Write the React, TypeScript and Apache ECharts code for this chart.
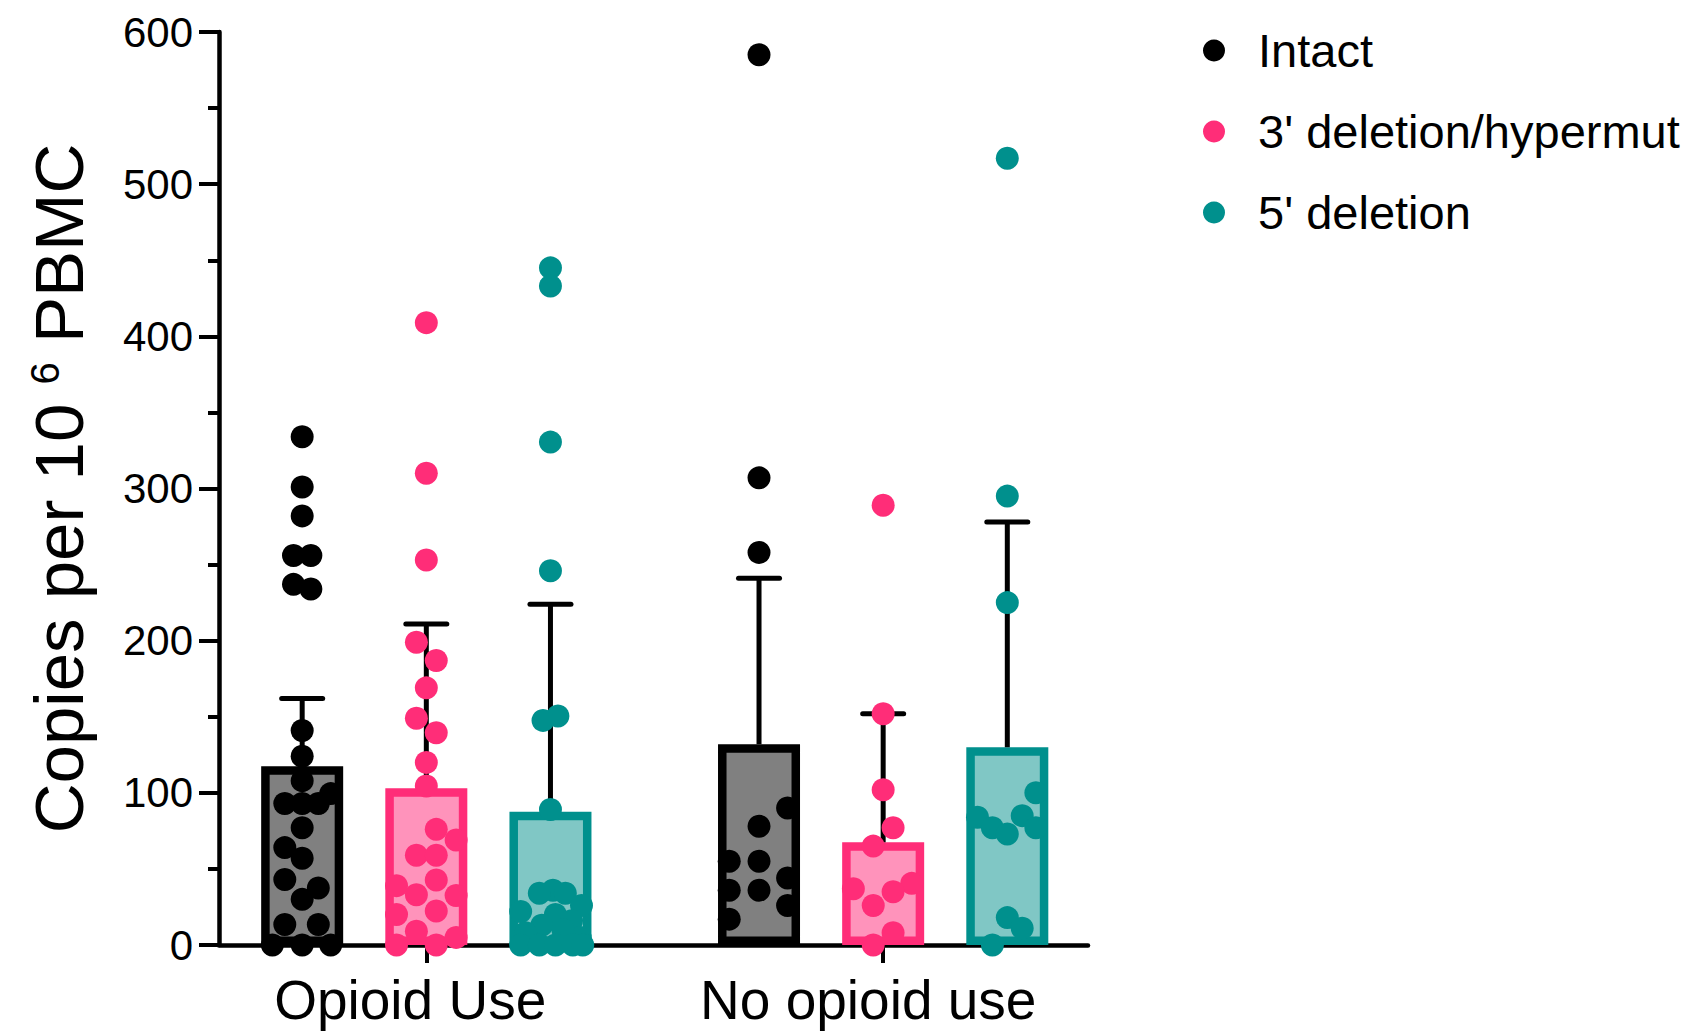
import React, { useEffect, useRef } from 'react';
import * as echarts from 'echarts';

// ---- data ----
const groupLabels = ['Opioid Use', 'No opioid use'];
const seriesNames = ['Intact', "3' deletion/hypermut", "5' deletion"];

// x position (value-axis units) of each bar: [group][series]
const barPositions = [
  [0.67, 1.67, 2.67],
  [4.35, 5.35, 6.35],
];
const groupTickPositions = [1.67, 5.35];
const groupLabelPositions = [1.54, 5.23];

// bar heights (mean) and upper error bar ends: [group][series]
const barMeans = [
  [117.5, 103, 87.5],
  [132, 67.5, 130],
];
const errorUpper = [
  [162, 211, 224],
  [241, 152, 278],
];

// individual points (values) and their horizontal jitter (axis units)
const opioidIntact = [334, 301, 282, 256, 256, 237, 234, 141, 124, 108, 93, 93, 93, 99.5, 77, 64, 57, 43, 37.5, 30, 13.5, 13.5, 0, 0, 0];
const opioidIntactJitter = [0, 0, 0, -0.07, 0.07, -0.07, 0.07, 0, 0, 0, -0.14, 0, 0.13, 0.23, 0, -0.14, 0, -0.14, 0.13, 0, -0.14, 0.13, -0.24, 0, 0.23];

const opioidDel3 = [409, 310, 253, 199, 187, 169, 149, 139.5, 120, 104.5, 76, 69, 59, 59, 39, 42.7, 33, 32.5, 22.3, 20, 9, 0, 0, 5];
const opioidDel3Jitter = [0, 0, 0, -0.08, 0.08, 0, -0.08, 0.08, 0, 0, 0.08, 0.24, -0.08, 0.08, -0.24, 0.08, -0.08, 0.24, 0.08, -0.24, -0.08, -0.24, 0.08, 0.24];

const opioidDel5 = [445, 433, 330.5, 246, 150.5, 147.6, 89, 36, 34, 34, 26, 22, 20, 16, 13, 8, 5, 10, 0, 0, 0, 0, 0];
const opioidDel5Jitter = [0, 0, 0, 0, 0.06, -0.06, 0, 0.02, -0.09, 0.12, 0.25, -0.24, 0.04, 0.17, -0.07, -0.2, 0.24, 0.1, -0.24, -0.09, 0.04, 0.18, 0.26];

const noOpioidIntact = [585, 307, 258, 90, 78, 55, 55, 44, 36, 36, 26, 17];
const noOpioidIntactJitter = [0, 0, 0, 0.23, 0, -0.24, 0, 0.23, -0.24, 0, 0.23, -0.24];

const noOpioidDel3 = [289, 152, 102, 77, 65, 37, 40.5, 35, 26, 8, 0];
const noOpioidDel3Jitter = [0, 0, 0, 0.08, -0.08, -0.24, 0.23, 0.08, -0.08, 0.08, -0.08];

const noOpioidDel5 = [517, 295, 225, 100, 84, 85, 77, 73, 77, 18, 11, 0];
const noOpioidDel5Jitter = [0, 0, 0, 0.23, -0.24, 0.12, -0.12, 0, 0.23, 0, 0.12, -0.12];

const yTicks = [0, 100, 200, 300, 400, 500, 600];

// ---- styles ----
const FONT = "'Liberation Sans', Arial, Helvetica, sans-serif";
const dotColors = ['#000000', '#FF2D78', '#00908D'];
const barFills = ['#808080', '#FF93BB', '#80C7C5'];
const barBorders = ['#000000', '#FF2D78', '#00908D'];

const pointSets = [
  [
    [opioidIntact, opioidIntactJitter],
    [opioidDel3, opioidDel3Jitter],
    [opioidDel5, opioidDel5Jitter],
  ],
  [
    [noOpioidIntact, noOpioidIntactJitter],
    [noOpioidDel3, noOpioidDel3Jitter],
    [noOpioidDel5, noOpioidDel5Jitter],
  ],
];

function buildOption(): any {
  const barData: any[] = [];
  const errData: any[] = [];
  groupLabels.forEach((_, g) => {
    seriesNames.forEach((__, s) => {
      barData.push({
        value: [barPositions[g][s], barMeans[g][s]],
        itemStyle: { color: barFills[s], borderColor: barBorders[s], borderWidth: 8.5 },
      });
      errData.push([barPositions[g][s], barMeans[g][s], errorUpper[g][s]]);
    });
  });

  const scatterSeries = seriesNames.map((name, s) => {
    const data: number[][] = [];
    groupLabels.forEach((_, g) => {
      const [vals, jit] = pointSets[g][s];
      vals.forEach((v, i) => data.push([barPositions[g][s] + jit[i], v]));
    });
    return {
      name,
      type: 'scatter',
      data,
      symbol: 'circle',
      symbolSize: 23,
      itemStyle: { color: dotColors[s], opacity: 1 },
      z: 5,
      silent: true,
    };
  });

  const nearestIdx = (v: number, arr: number[]) => {
    let best = 0;
    arr.forEach((a, i) => {
      if (Math.abs(a - v) < Math.abs(arr[best] - v)) best = i;
    });
    return best;
  };

  return {
    animation: false,
    backgroundColor: '#ffffff',
    textStyle: { fontFamily: FONT },
    grid: { left: 219, right: 604, top: 32, bottom: 89, containLabel: false, outerBoundsMode: 'none' },
    legend: {
      data: seriesNames,
      orient: 'vertical',
      left: 1198,
      top: 22,
      itemWidth: 78,
      itemHeight: 22,
      itemGap: 34,
      icon: 'circle',
      selectedMode: false,
      textStyle: { fontSize: 47, color: '#000', fontFamily: FONT, lineHeight: 46 },
    },
    xAxis: {
      type: 'value',
      min: 0,
      max: 7,
      splitLine: { show: false },
      axisLine: { show: true, onZero: false, lineStyle: { color: '#000', width: 4.5 } },
      axisTick: {
        show: true,
        customValues: groupTickPositions,
        length: 18,
        lineStyle: { color: '#000', width: 4 },
      },
      axisLabel: {
        show: true,
        customValues: groupLabelPositions,
        margin: 27,
        fontSize: 55,
        color: '#000',
        fontFamily: FONT,
        formatter: (v: number) => groupLabels[nearestIdx(v, groupLabelPositions)],
      },
    },
    yAxis: {
      type: 'value',
      min: yTicks[0],
      max: yTicks[yTicks.length - 1],
      interval: 100,
      splitLine: { show: false },
      axisLine: { show: true, lineStyle: { color: '#000', width: 4.5 } },
      axisTick: { show: true, length: 20, lineStyle: { color: '#000', width: 4 } },
      minorTick: { show: true, splitNumber: 2, length: 11, lineStyle: { color: '#000', width: 4 } },
      axisLabel: { fontSize: 42, color: '#000', margin: 26, fontFamily: FONT },
      name: 'Copies per 10 {sup|6} PBMC',
      nameLocation: 'middle',
      nameRotate: 90,
      nameGap: 125,
      nameTextStyle: {
        fontSize: 69,
        color: '#000',
        fontFamily: FONT,
        rich: {
          sup: { fontSize: 40, color: '#000', fontFamily: FONT, verticalAlign: 'top' },
        },
      },
    },
    series: [
      {
        name: 'bars',
        type: 'bar',
        data: barData,
        barWidth: 82,
        z: 2,
        silent: true,
      },
      {
        name: 'errors',
        type: 'custom',
        data: errData,
        encode: { x: 0, y: [1, 2] },
        z: 3,
        silent: true,
        renderItem: (_params: any, api: any) => {
          const x = api.value(0);
          const p0 = api.coord([x, api.value(1)]);
          const p1 = api.coord([x, api.value(2)]);
          return {
            type: 'group',
            children: [
              {
                type: 'line',
                shape: { x1: p0[0], y1: p0[1], x2: p1[0], y2: p1[1] },
                style: { stroke: '#000', lineWidth: 5 },
              },
              {
                type: 'line',
                shape: { x1: p1[0] - 20.5, y1: p1[1], x2: p1[0] + 20.5, y2: p1[1] },
                style: { stroke: '#000', lineWidth: 5, lineCap: 'round' },
              },
            ],
          };
        },
      },
      ...scatterSeries,
    ],
  };
}

export default function App() {
  const ref = useRef<HTMLDivElement>(null);
  useEffect(() => {
    if (!ref.current) return;
    const chart = echarts.init(ref.current, undefined, { renderer: 'svg' });
    chart.setOption(buildOption());
    return () => chart.dispose();
  }, []);
  return (
    <div
      ref={ref}
      style={{ position: 'fixed', left: 0, top: 0, width: 1692, height: 1034, background: '#fff' }}
    />
  );
}
